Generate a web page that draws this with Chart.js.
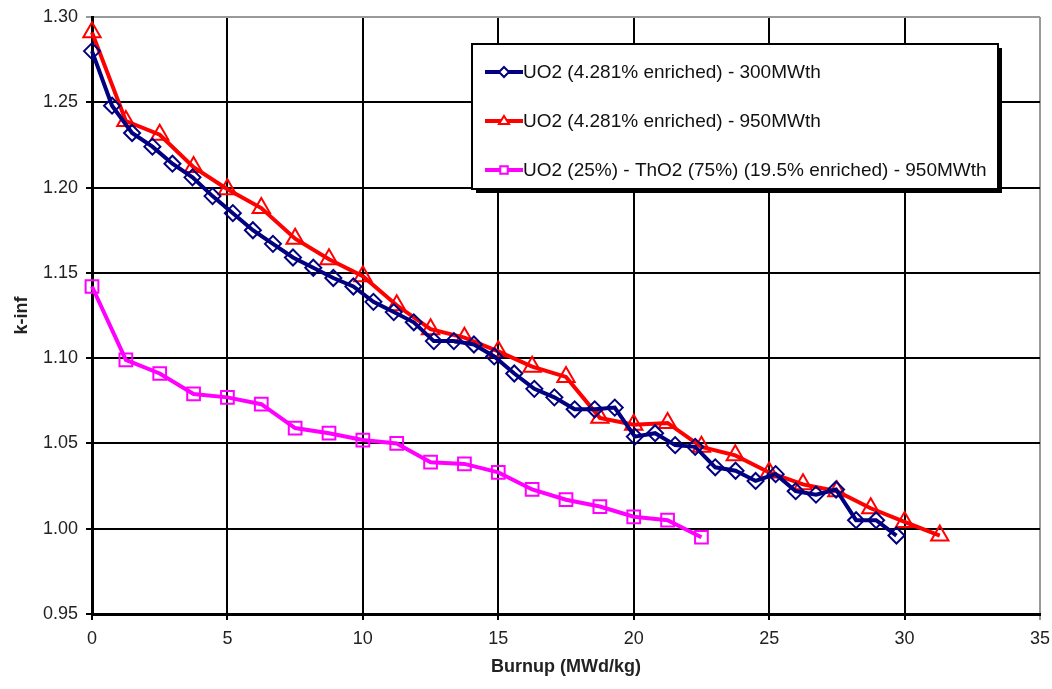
<!DOCTYPE html>
<html>
<head>
<meta charset="utf-8">
<script src="https://cdn.jsdelivr.net/npm/chart.js@4/dist/chart.umd.min.js"></script>
<style>
  html, body { margin: 0; padding: 0; background: #fff; }
  #wrap { width: 1052px; height: 689px; }
</style>
</head>
<body>
<div id="wrap"><canvas id="kinf" width="1052" height="689"></canvas></div>
<script>
// series labels
const seriesNames = [
    'UO2 (4.281% enriched) - 300MWth',
    'UO2 (4.281% enriched) - 950MWth',
    'UO2 (25%) - ThO2 (75%) (19.5% enriched) - 950MWth'
];

// 300MWth case
const burnup300 = [0, 0.74, 1.48, 2.23, 2.97, 3.71, 4.45, 5.20, 5.94, 6.68, 7.42, 8.17, 8.91, 9.65, 10.39,
    11.14, 11.88, 12.62, 13.36, 14.10, 14.85, 15.59, 16.33, 17.07, 17.82, 18.56, 19.30, 20.04, 20.79,
    21.53, 22.27, 23.01, 23.76, 24.50, 25.24, 25.98, 26.73, 27.47, 28.21, 28.95, 29.70];
const kinf300 = [1.280, 1.248, 1.232, 1.224, 1.214, 1.206, 1.195, 1.185, 1.175, 1.167, 1.159, 1.153, 1.147,
    1.142, 1.133, 1.127, 1.121, 1.110, 1.110, 1.108, 1.101, 1.091, 1.082, 1.077, 1.070, 1.070, 1.071,
    1.054, 1.056, 1.049, 1.048, 1.036, 1.034, 1.028, 1.032, 1.022, 1.020, 1.023, 1.005, 1.005, 0.996];

// 950MWth case
const burnup950 = [0, 1.25, 2.5, 3.75, 5, 6.25, 7.5, 8.75, 10, 11.25, 12.5, 13.75, 15, 16.25, 17.5,
    18.75, 20, 21.25, 22.5, 23.75, 25, 26.25, 27.5, 28.75, 30, 31.3];
const kinf950 = [1.291, 1.239, 1.231, 1.212, 1.199, 1.188, 1.170, 1.158, 1.148, 1.131, 1.117, 1.112, 1.104,
    1.095, 1.089, 1.065, 1.061, 1.062, 1.048, 1.043, 1.033, 1.026, 1.022, 1.012, 1.004, 0.996];

// thorium mixed case
const burnupTh = [0, 1.25, 2.5, 3.75, 5, 6.25, 7.5, 8.75, 10, 11.25, 12.5, 13.75, 15, 16.25, 17.5,
    18.75, 20, 21.25, 22.5];
const kinfTh = [1.142, 1.099, 1.091, 1.079, 1.077, 1.073, 1.059, 1.056, 1.052, 1.050, 1.039, 1.038, 1.033,
    1.023, 1.017, 1.013, 1.007, 1.005, 0.995];

const xTicks = [0, 5, 10, 15, 20, 25, 30, 35];
const yTicks = [0.95, 1.00, 1.05, 1.10, 1.15, 1.20, 1.25, 1.30];

const FONT = "'Liberation Sans', Arial, sans-serif";
const colors = ['#000080', '#ff0000', '#ff00ff'];
const markers = ['rectRot', 'triangle', 'rect'];

function toPoints(xs, ys) {
    return xs.map((x, i) => ({ x: x, y: ys[i] }));
}

// draws one hollow marker for the legend
function drawMarker(ctx, type, x, y, r, color) {
    ctx.save();
    ctx.strokeStyle = color;
    ctx.fillStyle = '#fff';
    ctx.lineWidth = 2;
    ctx.beginPath();
    if (type === 'rectRot') {
        ctx.moveTo(x, y - r); ctx.lineTo(x + r, y); ctx.lineTo(x, y + r); ctx.lineTo(x - r, y);
    } else if (type === 'triangle') {
        ctx.moveTo(x, y - r); ctx.lineTo(x + r, y + r * 0.6); ctx.lineTo(x - r, y + r * 0.6);
    } else {
        ctx.rect(x - r * 0.75, y - r * 0.75, r * 1.5, r * 1.5);
    }
    ctx.closePath();
    ctx.fill();
    ctx.stroke();
    ctx.restore();
}

const boxLegend = {
    id: 'boxLegend',
    afterDraw(chart) {
        const ctx = chart.ctx;
        const left = 472, top = 44, w = 526, h = 145;
        ctx.save();
        ctx.fillStyle = '#000';
        ctx.fillRect(left + 4, top + 4, w, h);
        ctx.fillStyle = '#fff';
        ctx.fillRect(left, top, w, h);
        ctx.strokeStyle = '#000';
        ctx.lineWidth = 2;
        ctx.strokeRect(left, top, w, h);
        ctx.font = '19px ' + FONT;
        ctx.textBaseline = 'middle';
        ctx.textAlign = 'left';
        const rows = [72, 121, 170];
        seriesNames.forEach((name, i) => {
            const y = rows[i];
            ctx.strokeStyle = colors[i];
            ctx.lineWidth = 4;
            ctx.beginPath();
            ctx.moveTo(485, y);
            ctx.lineTo(523, y);
            ctx.stroke();
            drawMarker(ctx, markers[i], 504, y, 5, colors[i]);
            ctx.fillStyle = '#111';
            ctx.fillText(name, 523, y + 1);
        });
        ctx.restore();
    }
};

const datasets = [
    { xs: burnup300, ys: kinf300, r: 8 },
    { xs: burnup950, ys: kinf950, r: 10 },
    { xs: burnupTh, ys: kinfTh, r: 9 }
].map((s, i) => ({
    label: seriesNames[i],
    data: toPoints(s.xs, s.ys),
    borderColor: colors[i],
    backgroundColor: '#fff',
    borderWidth: 4,
    pointStyle: markers[i],
    pointRadius: s.r,
    pointBorderWidth: 2,
    pointBorderColor: colors[i],
    pointBackgroundColor: 'rgba(255,255,255,0)',
    tension: 0,
    clip: false
}));

const ctx = document.getElementById('kinf').getContext('2d');
new Chart(ctx, {
    type: 'line',
    data: { datasets: datasets },
    options: {
        responsive: false,
        animation: false,
        layout: { padding: { top: 17, right: 12, left: 0, bottom: 0 } },
        plugins: {
            legend: { display: false },
            tooltip: { enabled: false }
        },
        scales: {
            x: {
                type: 'linear',
                min: 0,
                max: 35,
                afterBuildTicks: (scale) => { scale.ticks = xTicks.map(v => ({ value: v })); },
                afterFit: (scale) => {
                    scale.height = 75;
                    scale.paddingLeft = 0;
                    scale.paddingRight = 0;
                },
                ticks: {
                    font: { family: FONT, size: 18 },
                    color: '#222',
                    padding: 8,
                    maxRotation: 0
                },
                grid: {
                    color: (c) => c.tick && c.tick.value === 35 ? '#999' : '#000',
                    lineWidth: 2,
                    tickLength: 6
                },
                border: { color: '#000', width: 3 },
                title: {
                    display: true,
                    text: 'Burnup (MWd/kg)',
                    font: { family: FONT, size: 18, weight: 'bold' },
                    color: '#222',
                    padding: { top: 0, bottom: 11 }
                }
            },
            y: {
                min: 0.95,
                max: 1.30,
                afterBuildTicks: (scale) => { scale.ticks = yTicks.map(v => ({ value: v })); },
                afterFit: (scale) => {
                    scale.width = 92;
                    scale.paddingTop = 0;
                    scale.paddingBottom = 0;
                },
                ticks: {
                    font: { family: FONT, size: 18 },
                    color: '#222',
                    padding: 8,
                    callback: (v) => Number(v).toFixed(2)
                },
                grid: {
                    color: (c) => c.tick && Math.abs(c.tick.value - 1.30) < 1e-6 ? '#999' : '#000',
                    lineWidth: 2,
                    tickLength: 6
                },
                border: { color: '#000', width: 3 },
                title: {
                    display: true,
                    text: 'k-inf',
                    font: { family: FONT, size: 18, weight: 'bold' },
                    color: '#222',
                    padding: { top: 11, bottom: 0 }
                }
            }
        }
    },
    plugins: [boxLegend]
});
</script>
</body>
</html>
